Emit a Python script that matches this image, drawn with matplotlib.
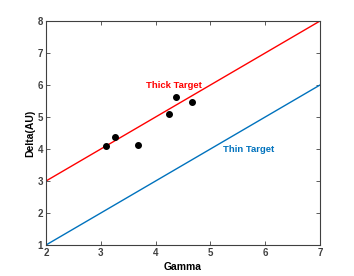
import matplotlib
matplotlib.use("Agg")
import matplotlib.pyplot as plt
import numpy as np

plt.rcParams['font.family'] = ['Liberation Sans', 'DejaVu Sans']

gamma_pts = [3.09, 3.25, 3.68, 4.24, 4.38, 4.66]
delta_pts = [4.10, 4.38, 4.13, 5.09, 5.63, 5.46]
line_x = [2, 7]
thick_y = [3, 8]
thin_y = [1, 6]

fig = plt.figure(figsize=(3.54, 2.76), dpi=100)
ax = fig.add_axes([46/354, 1-245/276, (320-46)/354, (245-21)/276])
ax.plot(line_x, thick_y, color='#FF0000', lw=1.0)
ax.plot(line_x, thin_y, color='#0072BD', lw=1.0)
ax.scatter(gamma_pts, delta_pts, s=16, color='black', zorder=3)
ax.text(4.34, 6.0, 'Thick Target', color='#FF0000', fontsize=6.8, fontweight='bold', ha='center', va='center')
ax.text(5.69, 3.97, 'Thin Target', color='#0072BD', fontsize=6.8, fontweight='bold', ha='center', va='center')
ax.set_xlim(2, 7)
ax.set_ylim(1, 8)
ax.set_xticks([2, 3, 4, 5, 6, 7])
ax.set_yticks([1, 2, 3, 4, 5, 6, 7, 8])
ax.tick_params(direction='in', top=True, right=True, labelsize=7, length=3, width=0.6, colors='#404040', pad=2)
for lbl in ax.get_xticklabels() + ax.get_yticklabels():
    lbl.set_fontweight('bold')
for s in ax.spines.values():
    s.set_color('#404040')
    s.set_linewidth(0.8)
ax.set_xlabel('Gamma', fontsize=7.5, fontweight='bold', labelpad=3)
ax.set_ylabel('Delta(AU)', fontsize=7.5, fontweight='bold', labelpad=2)
fig.savefig('out.png', dpi=100)
